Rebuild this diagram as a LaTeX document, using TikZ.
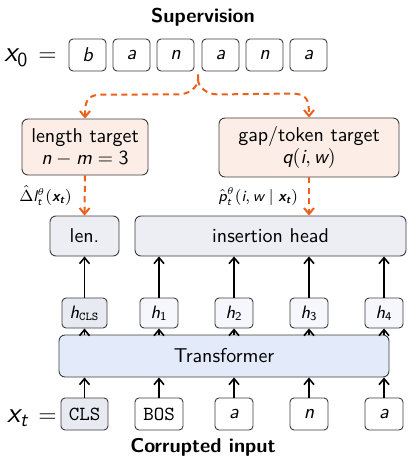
\documentclass[tikz,border=0pt]{standalone}
\usepackage{amsmath}
\usetikzlibrary{arrows.meta,calc}
% sans-serif italic / upright / bold-italic pieces inside formulas
\newcommand{\si}[1]{\text{\sffamily\itshape #1}}
\newcommand{\su}[1]{\text{\sffamily\upshape #1}}
\newcommand{\sbi}[1]{\text{\sffamily\bfseries\itshape #1}}
\definecolor{supor}{RGB}{236,96,26}
\definecolor{tgtfill}{RGB}{252,238,230}
\definecolor{headfill}{RGB}{237,238,244}
\definecolor{trfill}{RGB}{227,235,250}
\definecolor{clsfill}{RGB}{232,234,242}
\definecolor{hidfill}{RGB}{246,247,252}
\definecolor{edge}{RGB}{60,60,60}
\tikzset{
  box/.style={draw=edge, line width=0.45pt, rounded corners=2pt, inner sep=0pt, align=center},
  tok/.style={box, fill=white, minimum width=18.5pt, minimum height=16pt},
  inp/.style={box, fill=white, minimum width=19pt, minimum height=16pt},
  hid/.style={box, fill=hidfill, minimum width=19pt, minimum height=15pt, font=\sffamily\small},
  tgt/.style={box, fill=tgtfill, rounded corners=3pt},
  head/.style={box, fill=headfill, rounded corners=3pt, minimum height=20pt},
  seqlabel/.style={font=\sffamily\Large, anchor=base east, inner sep=0pt},
  flow/.style={-{Straight Barb[length=3pt,width=5pt]}, line width=0.8pt, black},
  sup/.style={-{Straight Barb[length=3pt,width=5pt]}, supor, line width=1pt, dash pattern=on 3pt off 2.2pt},
  lab/.style={font=\sffamily\fontsize{7.7}{9}\selectfont, text=black, inner sep=1pt},
}
\begin{document}
\begin{tikzpicture}[x=0.5pt, y=-0.5pt, font=\sffamily]
\useasboundingbox (0,0) rectangle (407,460);

% supervision sequence
\node[font=\sffamily\bfseries] (suptitle) at (203,17) {Supervision};
\node[seqlabel] (xzero) at (57,62) {$\si{x}_{\su{0}}$\hspace{5pt}{\large$=$}};
\node[tok] (s1) at (87.5,55) {\itshape b};
\node[tok] (s2) at (131.5,55) {\itshape a};
\node[tok] (s3) at (175.5,55) {\itshape n};
\node[tok] (s4) at (220.5,55) {\itshape a};
\node[tok] (s5) at (264.5,55) {\itshape n};
\node[tok] (s6) at (308.5,55) {\itshape a};
\coordinate (split) at ($(s3.south east)!0.5!(s4.south west)+(0,3)$);

% targets
\node[tgt, minimum width=63pt, minimum height=28pt] (lt) at (85,147) {length target\\[-1pt] $\si{n}-\si{m}=\su{3}$};
\node[tgt, minimum width=90pt, minimum height=29.5pt] (gt) at (309,147.5) {gap/token target\\[-1pt] $\si{q}(\si{i},\si{w})$};

% heads
\node[head, minimum width=34.5pt] (len) at (84.5,236) {len.};
\node[head, minimum width=135.5pt] (ins) at (270.5,236) {insertion head};

% hidden states
\node[hid, fill=clsfill, minimum width=22.5pt] (hc) at (84.5,313) {$\si{h}_{\texttt{CLS}}$};
\node[hid] (h1) at (159,313) {$\si{h}_{\su{1}}$};
\node[hid] (h2) at (234,313) {$\si{h}_{\su{2}}$};
\node[hid] (h3) at (309,313) {$\si{h}_{\su{3}}$};
\node[hid] (h4) at (384,313) {$\si{h}_{\su{4}}$};

% encoder
\node[box, fill=trfill, rounded corners=3pt, minimum width=165pt, minimum height=21pt] (tr) at (224,356) {Transformer};

% corrupted input
\node[seqlabel] (xt) at (57,422) {$\si{x}_{\si{t}}$\hspace{5pt}{\large$=$}};
\node[inp, fill=clsfill, minimum width=23.5pt] (c0) at (84.5,414) {\texttt{CLS}};
\node[inp, minimum width=24pt] (c1) at (159,414) {\texttt{BOS}};
\node[inp] (c2) at (234,414) {\itshape a};
\node[inp] (c3) at (309,414) {\itshape n};
\node[inp] (c4) at (384,414) {\itshape a};
\node[font=\sffamily\bfseries] (cortitle) at (203,447) {Corrupted input};

% supervision flow
\draw[sup] (split) -- ++(0,5) .. controls ($(split)+(0,12)$) and ($(split)+(-8,20)$) .. ($(split)+(-20,20)$)
  -- ($(lt.north)+(18,-24)$) .. controls ($(lt.north)+(2,-24)$) and ($(lt.north)+(0,-18)$) .. (lt.north);
\draw[sup] ($(split)+(0,5)$) .. controls ($(split)+(0,12)$) and ($(split)+(8,20)$) .. ($(split)+(20,20)$)
  -- ($(gt.north)+(-18,-24)$) .. controls ($(gt.north)+(-2,-24)$) and ($(gt.north)+(0,-18)$) .. (gt.north);
\draw[sup] (lt.south) -- node[lab, anchor=east, xshift=-5pt] (dl) {$\hat{\Delta}\si{l}_{\si{t}}^{\theta}(\sbi{x}_{\sbi{t}})$} (len.north);
\draw[sup] (gt.south) -- node[lab, anchor=east, xshift=-4pt] (pl) {$\hat{\si{p}}_{\si{t}}^{\theta}(\si{i},\si{w}\mid \sbi{x}_{\sbi{t}})$} (gt.south |- ins.north);

% hidden states to heads
\draw[flow] (hc.north) -- (len.south);
\foreach \k in {1,...,4} \draw[flow] (h\k.north) -- (h\k.north |- ins.south);

% encoder to hidden states
\foreach \k/\h in {c0/hc,c1/h1,c2/h2,c3/h3,c4/h4} {
  \draw[flow] (\h |- tr.north) -- (\h.south);
  \draw[flow] (\k.north) -- (\k |- tr.south);
}
\end{tikzpicture}
\end{document}
